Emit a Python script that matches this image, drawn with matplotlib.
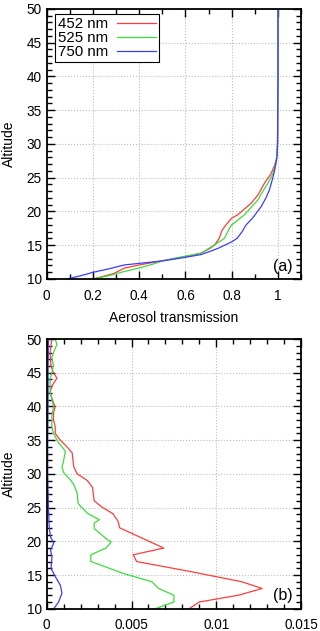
import matplotlib
matplotlib.use("Agg")
import matplotlib.pyplot as plt
from matplotlib.ticker import MultipleLocator

plt.rcParams["font.family"] = ["Liberation Sans", "DejaVu Sans"]
plt.rcParams["font.size"] = 9.8

labels = ["452 nm", "525 nm", "750 nm"]
colors = ["#ff3c3c", "#3cdc3c", "#3c3cff"]

# panel (a): aerosol transmission vs altitude
alt_a_452 = [10, 10.8, 11.6, 12.1, 12.7, 13.3, 13.8, 14.5, 15, 16, 16.6, 17.2, 18, 19, 19.5,
             21.2, 22.5, 24.2, 25.6, 26.8, 27.7, 28.5, 30, 35, 40, 45, 50]
tr_452 = [0.203, 0.29, 0.336, 0.406, 0.5, 0.6, 0.667, 0.705, 0.725, 0.746, 0.752, 0.758, 0.775,
          0.80, 0.826, 0.884, 0.915, 0.942, 0.97, 0.985, 0.993, 0.996, 0.998, 0.999, 1.0, 1.0, 1.0]

alt_a_525 = [10, 10.5, 11.1, 11.7, 12.2, 12.7, 13.3, 13.8, 14.5, 15, 16, 16.8, 17.5, 18, 19.5,
             21.7, 23, 24.2, 25.6, 26.8, 27.7, 28.5, 30, 35, 40, 50]
tr_525 = [0.203, 0.27, 0.336, 0.41, 0.46, 0.503, 0.59, 0.667, 0.70, 0.724, 0.768, 0.78, 0.79,
          0.80, 0.855, 0.913, 0.935, 0.957, 0.978, 0.988, 0.993, 0.996, 0.998, 0.999, 1.0, 1.0]

alt_a_750 = [10, 10.5, 11.0, 11.5, 12.07, 12.67, 13.2, 13.6, 14.0, 14.5, 15.0, 15.5, 16, 17,
             18, 19, 20.7, 22, 23.2, 25, 26.5, 27.7, 28.5, 30, 35, 40, 50]
tr_750 = [0.09, 0.15, 0.203, 0.27, 0.336, 0.503, 0.6, 0.667, 0.70, 0.739, 0.77, 0.80, 0.823,
          0.845, 0.862, 0.89, 0.927, 0.948, 0.963, 0.978, 0.988, 0.994, 0.996, 0.998, 0.999,
          1.0, 1.0]

# panel (b)
alt_b_452 = [50, 49, 48, 46, 45, 44.2, 43, 42, 40.5, 40, 39, 38, 37, 36, 35, 34, 33.1, 31, 30,
             29, 28, 26, 25, 24.1, 23, 22, 19, 18, 17, 15.5, 14, 13, 12, 11, 10]
val_452 = [0.0003, 0.00025, 0.0002, 0.00025, 0.0004, 0.0006, 0.0003, 0.0002, 0.0004, 0.0005,
           0.0004, 0.0004, 0.0005, 0.0005, 0.0008, 0.0012, 0.0015, 0.0016, 0.0018, 0.0024,
           0.0027, 0.0028, 0.0033, 0.0039, 0.0042, 0.0043, 0.0069, 0.0051, 0.0053, 0.0085,
           0.0115, 0.0127, 0.0113, 0.009, 0.0084]

alt_b_525 = [50, 49.2, 48, 47.2, 46, 45, 44, 42.3, 41, 40, 38.6, 37, 36, 34.6, 33.4, 32, 31,
             30.2, 29.1, 28.4, 27.1, 25.6, 24.15, 23.2, 22.7, 21.9, 20.4, 19.9, 19, 18, 17,
             15.25, 14, 13, 12, 11, 10]
val_525 = [0.0005, 0.0006, 0.0004, 0.0003, 0.0004, 0.0003, 0.0002, 0.0002, 0.0003, 0.0004,
           0.0003, 0.0003, 0.0004, 0.0007, 0.0011, 0.0010, 0.0009, 0.0010, 0.0014, 0.0016,
           0.0018, 0.00185, 0.0024, 0.0031, 0.0028, 0.0028, 0.0035, 0.0038, 0.0035, 0.0026,
           0.0026, 0.0045, 0.0062, 0.0066, 0.0075, 0.0075, 0.0064]

alt_b_750 = [50, 45, 40, 35, 30, 25, 22, 20.7, 19.7, 18.7, 17.7, 16, 14.75, 13.5, 12.3, 11, 10]
val_750 = [0.0001, 0.00008, 0.00008, 0.00006, 0.00006, 0.0001, 0.00015, 0.00022, 0.00041,
           0.00022, 0.00031, 0.00025, 0.00051, 0.0008, 0.0009, 0.0007, 0.00041]


def style_axes(ax, xmajor, xminor):
    ax.set_ylim(10, 50)
    ax.yaxis.set_major_locator(MultipleLocator(5))
    ax.yaxis.set_minor_locator(MultipleLocator(1))
    ax.xaxis.set_major_locator(MultipleLocator(xmajor))
    ax.xaxis.set_minor_locator(MultipleLocator(xminor))
    ax.tick_params(which="both", direction="in", top=True, right=True, width=1)
    ax.tick_params(which="major", length=6)
    ax.tick_params(which="minor", length=3.5)
    ax.tick_params(axis="x", which="major", pad=7)
    ax.grid(True, which="major", color="#bbbbbb", linestyle=":", linewidth=0.8)
    for sp in ax.spines.values():
        sp.set_linewidth(1.3)
    ax.set_ylabel("Altitude", fontsize=10)
    ax.yaxis.set_label_coords(-0.12, 0.5)


fig = plt.figure(figsize=(3.2, 6.31), dpi=100)
ax1 = fig.add_axes([0.146, 0.558, 0.795, 0.428])
ax2 = fig.add_axes([0.146, 0.0353, 0.795, 0.4274])

for alt, tr, lab, c in zip([alt_a_452, alt_a_525, alt_a_750], [tr_452, tr_525, tr_750],
                           labels, colors):
    ax1.plot(tr, alt, color=c, linewidth=0.9, label=lab)
style_axes(ax1, 0.2, 0.1)
ax1.set_xlim(0, 1.1)
ax1.set_xticks([0, 0.2, 0.4, 0.6, 0.8, 1.0])
ax1.set_xticklabels(["0", "0.2", "0.4", "0.6", "0.8", "1"])
ax1.set_xlabel("Aerosol transmission", fontsize=10, labelpad=6)
ax1.text(0.965, 0.03, "(a)", transform=ax1.transAxes, ha="right", va="baseline", fontsize=11.5)
leg = ax1.legend(loc="upper left", bbox_to_anchor=(0.033, 0.981), borderaxespad=0,
                 markerfirst=False, fancybox=False, framealpha=1, edgecolor="black",
                 fontsize=10.8, handlelength=2.6, labelspacing=0.0, handletextpad=0.55,
                 borderpad=0.2)
leg.get_frame().set_linewidth(0.8)

for alt, v, c in zip([alt_b_452, alt_b_525, alt_b_750], [val_452, val_525, val_750], colors):
    ax2.plot(v, alt, color=c, linewidth=0.9)
style_axes(ax2, 0.005, 0.001)
ax2.set_xlim(0, 0.015)
ax2.set_xticks([0, 0.005, 0.01, 0.015])
ax2.set_xticklabels(["0", "0.005", "0.01", "0.015"])
ax2.text(0.965, 0.032, "(b)", transform=ax2.transAxes, ha="right", va="baseline", fontsize=11.5)

fig.savefig("out.png", dpi=100)
